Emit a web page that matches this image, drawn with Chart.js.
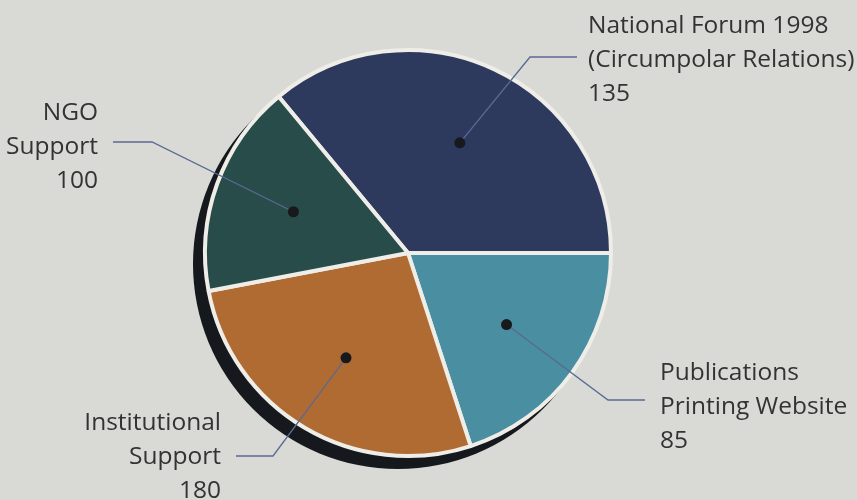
<!DOCTYPE html>
<html>
<head>
<meta charset="utf-8">
<script src="https://cdn.jsdelivr.net/npm/chart.js@4"></script>
<style>
    body { margin: 0; background: #d9d9d5; }
    canvas { display: block; }
</style>
</head>
<body>
<canvas id="budgetChart" width="857" height="500"></canvas>
<script>
const categories = [
    ['National Forum 1998', '(Circumpolar Relations)'],
    ['Publications', 'Printing Website'],
    ['Institutional', 'Support'],
    ['NGO', 'Support']
]
// numbers printed next to each slice
const printedValues = [135, 85, 180, 100]
// slice sizes as they are drawn in the original (the print does not follow its own numbers)
const sliceValues = [180, 100, 135, 85]

const colors = ['#2d3a5e', '#4a8ea2', '#b06b33', '#284c4a']

// where each callout bends and where its text sits
const callouts = [
    { elbow: [530, 57], end: [577, 57], x: 588, y: 33, align: 'left' },
    { elbow: [608, 400], end: [645, 400], x: 660, y: 380, align: 'left' },
    { elbow: [273, 456], end: [236, 456], x: 221, y: 430, align: 'right' },
    { elbow: [152, 142], end: [113, 142], x: 98, y: 120, align: 'right' }
]

// first slice ends at 3 o'clock, the rest follow clockwise from there
const total = sliceValues.reduce((a, b) => a + b, 0)
const startRotation = 90 - sliceValues[0] / total * 360

const pieShadow = {
    id: 'pieShadow',
    beforeDatasetsDraw(chart) {
        const arc = chart.getDatasetMeta(0).data[0]
        if (!arc) return
        const { x, y, outerRadius } = arc.getProps(['x', 'y', 'outerRadius'], true)
        const ctx = chart.ctx
        ctx.save()
        ctx.fillStyle = '#15191d'
        ctx.beginPath()
        ctx.arc(x - 10, y + 11, outerRadius + 2, 0, Math.PI * 2)
        ctx.fill()
        ctx.restore()
    }
}

const calloutLabels = {
    id: 'calloutLabels',
    afterDatasetsDraw(chart) {
        const ctx = chart.ctx
        const arcs = chart.getDatasetMeta(0).data
        ctx.save()
        arcs.forEach((arc, i) => {
            const p = arc.getProps(['x', 'y', 'startAngle', 'endAngle', 'outerRadius'], true)
            const mid = (p.startAngle + p.endAngle) / 2
            const dx = p.x + Math.cos(mid) * p.outerRadius * 0.6
            const dy = p.y + Math.sin(mid) * p.outerRadius * 0.6
            const c = callouts[i]

            ctx.strokeStyle = '#596a92'
            ctx.lineWidth = 1.3
            ctx.beginPath()
            ctx.moveTo(dx, dy)
            ctx.lineTo(c.elbow[0], c.elbow[1])
            ctx.lineTo(c.end[0], c.end[1])
            ctx.stroke()

            ctx.fillStyle = '#17191c'
            ctx.beginPath()
            ctx.arc(dx, dy, 5.5, 0, Math.PI * 2)
            ctx.fill()

            ctx.fillStyle = '#333333'
            ctx.font = '500 24.5px "Open Sans"'
            ctx.textAlign = c.align
            ctx.textBaseline = 'alphabetic'
            const lines = categories[i].concat(String(printedValues[i]))
            lines.forEach((line, j) => {
                ctx.fillText(line, c.x, c.y + j * 34)
            })
        })
        ctx.restore()
    }
}

const ctx = document.getElementById('budgetChart').getContext('2d')
const budgetChart = new Chart(ctx, {
    type: 'pie',
    data: {
        labels: categories.map(c => c.join(' ')),
        datasets: [{
            data: sliceValues,
            backgroundColor: colors,
            borderColor: '#efede7',
            borderWidth: 4
        }]
    },
    options: {
        responsive: false,
        animation: false,
        rotation: startRotation,
        layout: {
            padding: { top: 48, bottom: 42, left: 203, right: 244 }
        },
        plugins: {
            legend: { display: false },
            tooltip: { enabled: false }
        }
    },
    plugins: [pieShadow, calloutLabels]
})
</script>
</body>
</html>
